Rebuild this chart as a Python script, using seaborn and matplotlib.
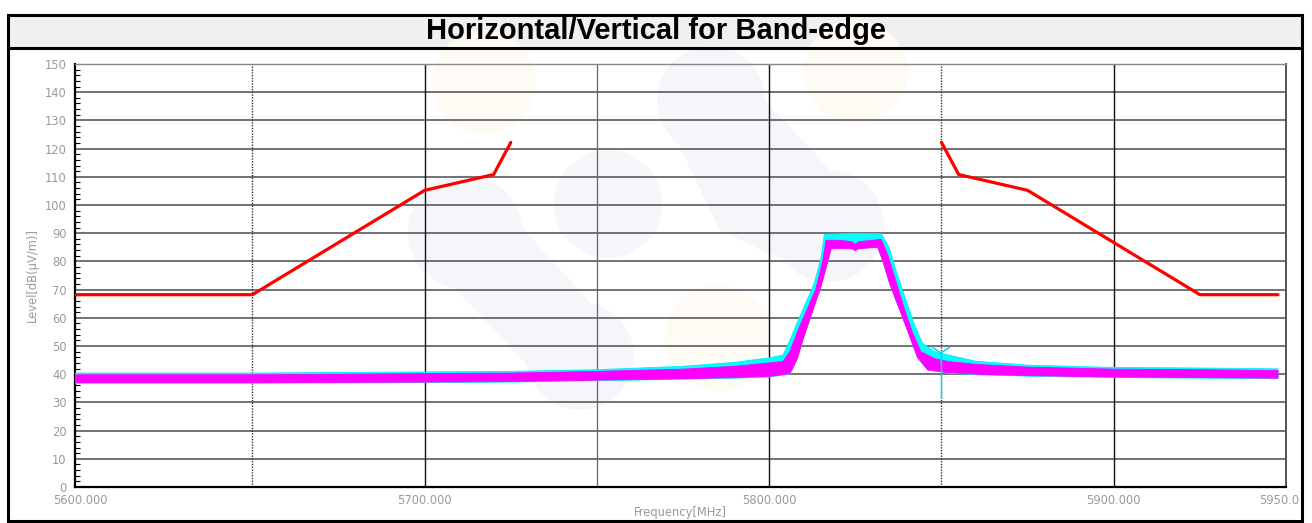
import numpy as np
import pandas as pd
import matplotlib
matplotlib.use("Agg")
import matplotlib.pyplot as plt
import seaborn as sns
from matplotlib.patches import Rectangle, Circle, Polygon
from matplotlib.transforms import Bbox

# ---------------- data ----------------
title = "Horizontal/Vertical for Band-edge"
x_label = "Frequency[MHz]"
y_label = "Level[dB(μV/m)]"

x_span = [5598.5, 5947.7]
x_ticks = [5600, 5700, 5800, 5900, 5950]
x_tick_labels = ["5600.000", "5700.000", "5800.000", "5900.000", "5950.000"]
y_ticks = list(range(0, 151, 10))
grid_freqs = [5650, 5700, 5750, 5800, 5850, 5900]

# band-edge limit mask (dBuV/m)
mask_low_freq = [5598.5, 5650, 5700, 5720, 5725]
mask_low_level = [68.2, 68.2, 105.2, 110.8, 122.2]
mask_high_freq = [5850, 5855, 5875, 5925, 5947.7]
mask_high_level = [122.2, 110.8, 105.2, 68.2, 68.2]

# vertical polarisation trace (cyan): upper / lower envelope
cyan_hi_freq = [5598.5, 5650, 5700, 5725, 5750, 5775, 5790, 5800, 5804, 5806, 5808, 5810.5,
                5813, 5815, 5816, 5824, 5832.5, 5834.8, 5837, 5839.5, 5842, 5844.5, 5848,
                5852, 5860, 5875, 5900, 5925, 5947.7]
cyan_hi_level = [40.4, 40.4, 40.8, 41.0, 41.6, 42.8, 44.2, 45.8, 46.8, 52, 58, 65,
                 72, 81, 89.5, 90.0, 89.8, 85, 76, 67, 58, 51, 48.0,
                 46.8, 44.6, 43.2, 42.4, 42.2, 41.9]
cyan_lo_freq = [5598.5, 5650, 5700, 5725, 5750, 5775, 5790, 5800, 5806, 5808, 5810, 5812.5,
                5815, 5817, 5818, 5831.5, 5833, 5835, 5837.5, 5840, 5843, 5846, 5852,
                5860, 5875, 5900, 5925, 5947.7]
cyan_lo_level = [36.8, 36.8, 37.0, 37.2, 37.7, 38.2, 38.6, 39.0, 40.0, 45, 53, 62,
                 71, 80, 84.8, 85.2, 80, 72, 64, 56, 46, 41.5, 40.4,
                 39.8, 39.3, 38.8, 38.6, 38.4]

# horizontal polarisation trace (magenta): upper / lower envelope
mag_hi_freq = [5598.5, 5650, 5700, 5725, 5750, 5775, 5790, 5800, 5804, 5806, 5808.5, 5811,
               5813.5, 5815.5, 5816.5, 5820, 5824, 5825, 5826, 5832.5, 5834.5, 5836.5,
               5839, 5841.5, 5844, 5848, 5852, 5860, 5875, 5900, 5925, 5947.7]
mag_hi_level = [39.8, 39.8, 40.2, 40.4, 41.0, 41.8, 42.8, 44.0, 44.5, 48, 56, 63,
                70, 80, 87.5, 87.5, 87.0, 86.0, 87.0, 87.8, 82, 74,
                64, 55, 48, 45.5, 44.5, 43.5, 42.5, 41.8, 41.6, 41.3]
mag_lo_freq = [5598.5, 5650, 5700, 5725, 5750, 5775, 5790, 5800, 5806, 5808, 5810, 5812.5,
               5815, 5817, 5818, 5824, 5825, 5826, 5831.5, 5833, 5835, 5837.5, 5840,
               5843, 5846, 5852, 5860, 5875, 5900, 5925, 5947.7]
mag_lo_level = [37.0, 37.0, 37.2, 37.4, 37.9, 38.4, 38.8, 39.2, 40.2, 45, 53, 62,
                71, 80, 84.5, 84.5, 83.8, 84.5, 85.0, 80, 72, 64, 56,
                46, 41.5, 40.6, 40.0, 39.5, 39.0, 38.8, 38.6]

# band-edge marker on the vertical trace
marker_freq = 5850
marker_level = 47.5
marker_dip = 31.5

# ---------------- figure ----------------
W, H = 1312, 523
sns.set_theme(style="white")
plt.rcParams["font.family"] = ["Liberation Sans", "DejaVu Sans"]

fig = plt.figure(figsize=(W / 100, H / 100), dpi=100)
fig.patch.set_facecolor("white")

# background layer: frame, title band, faint logo watermark
bg = fig.add_axes([0, 0, 1, 1], zorder=0)
bg.set_xlim(0, W)
bg.set_ylim(H, 0)
bg.axis("off")

bg.add_patch(Rectangle((8, 15), 1294, 33, facecolor="#f0f0f0", edgecolor="none", zorder=0))

wm_gray = "#f5f6fa"
wm_orange = "#fefaf4"
for cx, cy, r in [(465, 232, 57), (580, 356, 54), (608, 204, 54),
                  (711, 100, 54), (828, 226, 56)]:
    bg.add_patch(Circle((cx, cy), r, facecolor=wm_gray, edgecolor="none", zorder=1))
bg.add_patch(Polygon([(410, 240), (520, 225), (633, 350), (527, 365)],
                     closed=True, facecolor=wm_gray, edgecolor="none", zorder=1))
bg.add_patch(Polygon([(657, 100), (765, 100), (830, 170), (828, 282), (720, 230)],
                     closed=True, facecolor=wm_gray, edgecolor="none", zorder=1))
for cx, cy, r in [(484, 82, 52), (855, 72, 52), (718, 338, 53)]:
    bg.add_patch(Circle((cx, cy), r, facecolor=wm_orange, edgecolor="none", zorder=1))

bg.add_patch(Rectangle((8, 15), 1294, 506, facecolor="none", edgecolor="black",
                       linewidth=2.2, zorder=3))
bg.plot([8, 1302], [48, 48], color="black", linewidth=2.2, zorder=3)
bg.text(656, 31, title, ha="center", va="center", fontsize=21, fontweight="bold",
        color="black", zorder=4)

# main plot
x0, x1, y0, y1 = 75, 1286, 64, 487
ax = fig.add_axes([x0 / W, (H - y1) / H, (x1 - x0) / W, (y1 - y0) / H], zorder=1)
ax.set_facecolor("none")

# traces as envelope polygons
ax.fill(cyan_hi_freq + cyan_lo_freq[::-1], cyan_hi_level + cyan_lo_level[::-1],
        color="#00ffff", linewidth=0.6, edgecolor="#00f0f0", zorder=3)
ax.fill(mag_hi_freq + mag_lo_freq[::-1], mag_hi_level + mag_lo_level[::-1],
        color="#ff00ff", linewidth=0.6, edgecolor="#ff00ff", zorder=4)

ax.plot([marker_freq, marker_freq], [marker_level, marker_dip], color="#00dce8",
        linewidth=1.0, zorder=5)
ax.plot([marker_freq], [marker_level], marker="1", markersize=16, color="#00dce8",
        markeredgewidth=1.1, zorder=5)

# limit mask
mask_df = pd.concat([
    pd.DataFrame({"freq": mask_low_freq, "level": mask_low_level, "seg": "low"}),
    pd.DataFrame({"freq": mask_high_freq, "level": mask_high_level, "seg": "high"}),
])
sns.lineplot(data=mask_df, x="freq", y="level", units="seg", estimator=None,
             color="#ff0000", linewidth=2.3, sort=False, ax=ax, zorder=6)

# axes, grid, ticks
tick_font = dict(family="DejaVu Sans", size=8.3, color="#9a9a9a")
ax.set_xlim(*x_span)
ax.set_ylim(0, 150)
ax.set_xticks(x_ticks)
ax.set_xticklabels(x_tick_labels, fontdict=tick_font)
ax.set_yticks(y_ticks)
ax.set_yticklabels([str(v) for v in y_ticks], fontdict=tick_font)
ax.set_yticks(np.arange(0, 151, 2), minor=True)
ax.yaxis.grid(True, which="major", color="#5a5a5a", linewidth=1.2, zorder=1)
ax.xaxis.grid(False)
ax.set_axisbelow(True)
for f in grid_freqs:
    if f in (5650, 5850):
        ax.axvline(f, color="#333333", linewidth=1.0, linestyle=(0, (1, 1)), zorder=2)
    elif f == 5750:
        ax.axvline(f, color="#666666", linewidth=0.9, zorder=2)
    else:
        ax.axvline(f, color="#111111", linewidth=1.0, zorder=2)

ax.tick_params(axis="y", which="major", direction="in", length=0, pad=6, left=True)
ax.tick_params(axis="y", which="minor", direction="in", length=3.5, width=0.8,
               color="black", left=True)
ax.tick_params(axis="x", which="major", direction="in", length=0, pad=5)

for side, col, lw in [("left", "black", 1.6), ("bottom", "black", 1.6),
                      ("top", "#888888", 1.0), ("right", "#555555", 1.4)]:
    ax.spines[side].set_visible(True)
    ax.spines[side].set_color(col)
    ax.spines[side].set_linewidth(lw)

ax.set_xlabel(x_label, fontdict=tick_font)
ax.set_ylabel(y_label, fontdict=tick_font)
ax.xaxis.set_label_coords(0.5, -(506 - y1) / (y1 - y0))
ax.yaxis.set_label_coords(-(x0 - 39) / (x1 - x0), 0.5)

# keep the last frequency label inside the frame
clip = Bbox.from_extents(0, 0, 1300, H)
for lab in ax.get_xticklabels():
    lab.set_clip_box(clip)
    lab.set_clip_on(True)

fig.savefig("out.png", dpi=100)
